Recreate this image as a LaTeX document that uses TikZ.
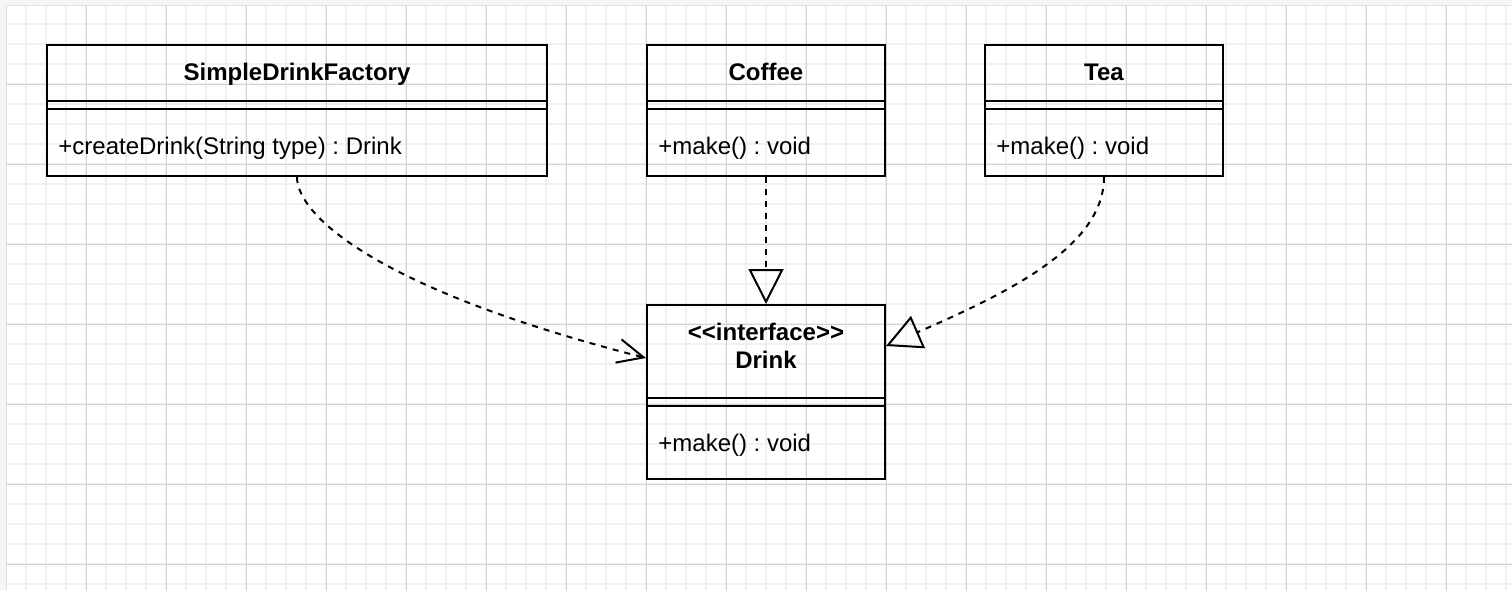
\documentclass[tikz,border=0pt]{standalone}
\usepackage{fontspec}
\newfontfamily\umlfont{Liberation Sans}
\usetikzlibrary{arrows.meta}

\begin{document}
\begin{tikzpicture}[x=0.5pt, y=-0.5pt,
    classbox/.style={draw, line width=1pt, inner sep=0pt},
    classtitle/.style={font=\umlfont\bfseries\fontsize{12}{14}\selectfont, inner sep=0pt, align=center},
    member/.style={font=\umlfont\frenchspacing\fontsize{12}{14}\selectfont, inner sep=0pt, anchor=base west},
    sepline/.style={line width=0.6pt},
    realize/.style={line width=1pt, dash pattern=on 3pt off 3pt, -{Triangle[open, length=17.5pt, width=17.5pt]}},
    depend/.style={line width=1pt, dash pattern=on 3pt off 3pt, -{Straight Barb[length=13pt, width=12pt]}},
    minorgrid/.style={gray!12, line width=1pt},
    majorgrid/.style={gray!35, line width=0.5pt}]

\useasboundingbox (0,0) rectangle (1512,590);

% background grid
\foreach \gx in {26,46,...,1506} \draw[minorgrid] (\gx,5) -- (\gx,590);
\foreach \gy in {24,44,...,584} \draw[minorgrid] (6,\gy) -- (1512,\gy);
\foreach \gx in {86,166,...,1446} \draw[majorgrid] (\gx,5) -- (\gx,590);
\foreach \gy in {84,164,...,564} \draw[majorgrid] (6,\gy) -- (1512,\gy);
\fill[gray!8] (0,0) rectangle (1512,5);
\fill[gray!8] (0,0) rectangle (6,590);
\draw[gray!25, line width=0.5pt] (6,590) -- (6,5) -- (1512,5);

% classes
\node[classbox, minimum width=250pt, minimum height=65.5pt] (factory) at (297,110.5) {};
\node[classbox, minimum width=119pt, minimum height=65.5pt] (coffee) at (766,110.5) {};
\node[classbox, minimum width=119pt, minimum height=65.5pt] (tea) at (1104,110.5) {};
\node[classbox, minimum width=119pt, minimum height=87pt] (drink) at (766,392) {};

\foreach \cls/\hd in {factory/28.5, coffee/28.5, tea/28.5, drink/47} {
    \draw[sepline] ([yshift=-\hd pt]\cls.north west) -- ([yshift=-\hd pt]\cls.north east);
    \draw[sepline] ([yshift=-\hd pt-4pt]\cls.north west) -- ([yshift=-\hd pt-4pt]\cls.north east);
}

\node[classtitle, anchor=base] (factorytitle) at (297,80.5) {SimpleDrinkFactory};
\node[classtitle, anchor=base] (coffeetitle) at (766,80.5) {Coffee};
\node[classtitle, anchor=base] (teatitle) at (1104,80.5) {Tea};
\node[classtitle] (drinktitle) at (766,346) {<<interface>>\\Drink};

\node[member] (factoryop) at (58,154.5) {+createDrink(String type) : Drink};
\node[member] (coffeeop) at (658,154.5) {+make() : void};
\node[member] (teaop) at (996,154.5) {+make() : void};
\node[member] (drinkop) at (658,451.5) {+make() : void};

% relations
\draw[depend] (factory.south) .. controls +(0,39) and +(-267,-68) .. ([yshift=17pt]drink.west);
\draw[realize] (coffee.south) -- (drink.north);
\draw[realize] (tea.south) .. controls +(0,69) and +(124,-54) .. ([yshift=23pt]drink.east);

\end{tikzpicture}
\end{document}
